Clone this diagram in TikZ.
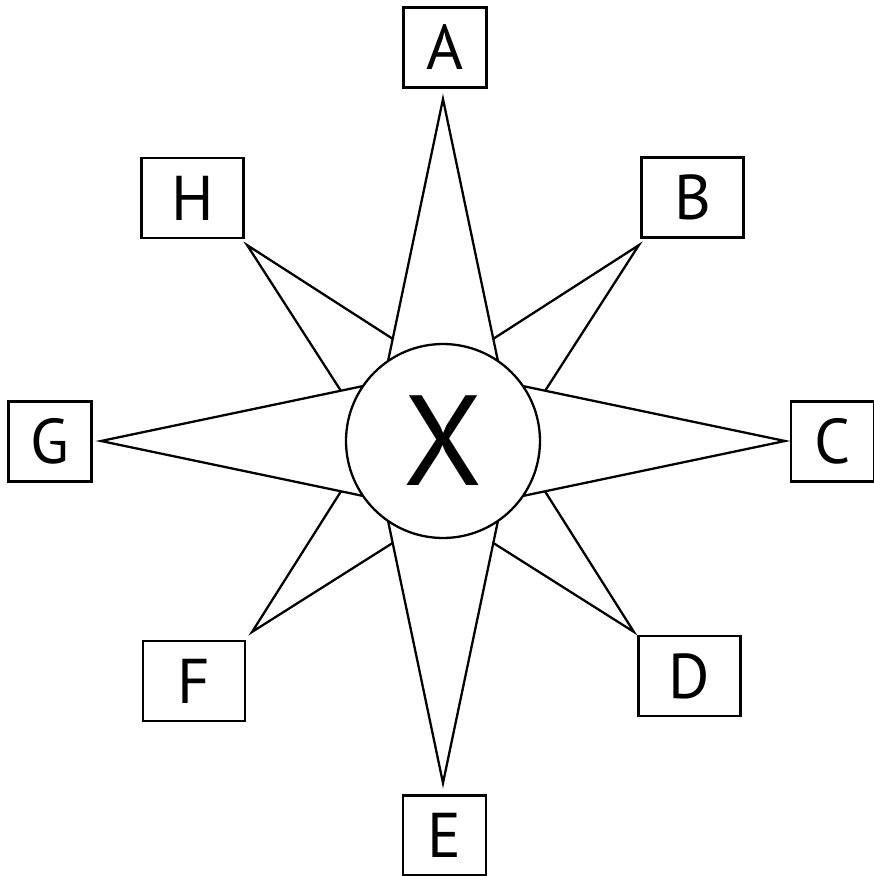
\documentclass[tikz,border=0pt]{standalone}
\usepackage{fontspec}
\setmainfont{PT Sans}
\tikzset{
  spike/.style={draw,fill=white,line width=1.3pt},
  hub/.style={circle,draw,fill=white,line width=1.3pt,inner sep=0pt,minimum size=3.88cm,font=\fontsize{73}{73}\selectfont},
  letterbox/.style={draw,line width=1.5pt,inner sep=0pt,minimum height=1.6cm,font=\fontsize{36}{36}\selectfont},
  narrowbox/.style={letterbox,minimum width=1.66cm},
  widebox/.style={letterbox,minimum width=2.04cm}
}
\begin{document}
\begin{tikzpicture}[x=0.02cm,y=0.02cm,line join=miter]
  \useasboundingbox (-443,-435) rectangle (430,441);

  % Short diagonal spikes, partly hidden
  \foreach \a/\r in {45/277,135/277,225/270,315/270}{
    \coordinate (tip\a) at (\a:\r);
    \draw[spike] (tip\a) -- ({\a+25}:97) -- ({\a-25}:97) -- cycle;
  }

  % Long spikes
  \foreach \a in {0,90,180,270}{
    \coordinate (tip\a) at (\a:342);
    \draw[spike] (tip\a) -- ({\a+34.5}:97) -- ({\a-34.5}:97) -- cycle;
  }

  % Hub
  \node[hub] (X) at (0,0) {X};

  % Letter boxes
  \node[narrowbox] (A) at (2,393.5) {A};
  \node[widebox]   (B) at (249.5,243.5) {B};
  \node[narrowbox] (C) at (389.5,-0.5) {C};
  \node[widebox]   (D) at (246.5,-235) {D};
  \node[narrowbox] (E) at (1.5,-394.5) {E};
  \node[widebox]   (F) at (-249,-240) {F};
  \node[narrowbox] (G) at (-392.7,-0.5) {G};
  \node[widebox]   (H) at (-250.5,243) {H};
\end{tikzpicture}
\end{document}
